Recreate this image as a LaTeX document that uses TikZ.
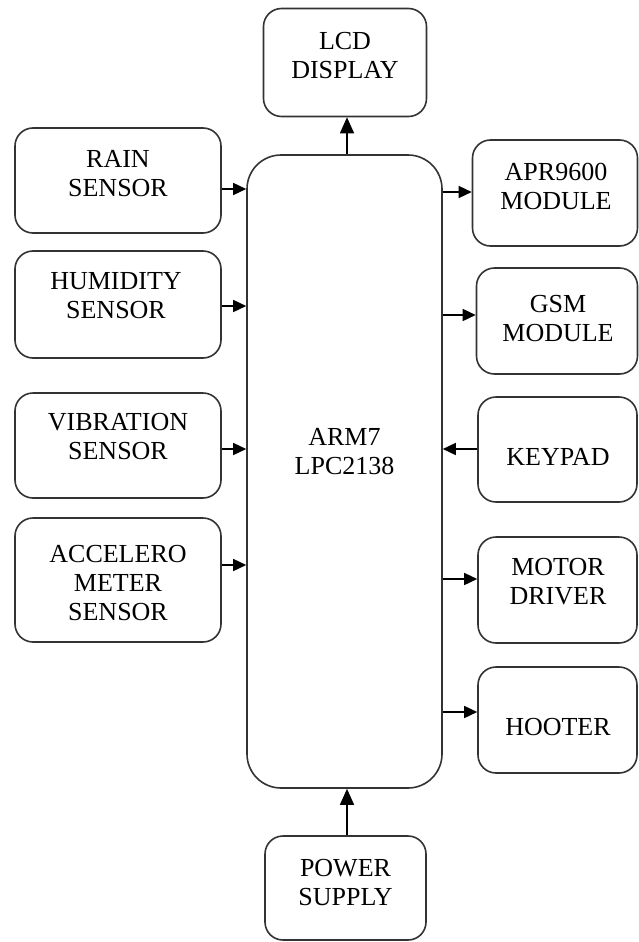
\documentclass[tikz,border=0pt]{standalone}
\usepackage{fontspec}
\setmainfont{Liberation Serif}
\usetikzlibrary{arrows.meta}
\begin{document}
\begin{tikzpicture}[x=1pt,y=1pt,
  blk/.style={draw=black!80, line width=1.6pt, rounded corners=18pt, inner sep=0pt},
  txt/.style={anchor=north, align=center, inner sep=0pt, font=\fontsize{26}{29}\selectfont},
  conn/.style={line width=1.5pt, -{Triangle[length=13pt,width=12pt]}},
  vconn/.style={line width=1.5pt, -{Triangle[length=16pt,width=14pt]}}]
\useasboundingbox (0,0) rectangle (639,-942);
% boxes
\node[blk, minimum width=195pt, minimum height=633pt, rounded corners=34pt] (arm) at (344.5,-471.5) {};
\node[blk, minimum width=163pt, minimum height=108pt] (lcd) at (345,-62.5) {};
\node[blk, minimum width=206pt, minimum height=105pt] (rain) at (118,-180.5) {};
\node[blk, minimum width=206pt, minimum height=107pt] (hum) at (118,-304.5) {};
\node[blk, minimum width=206pt, minimum height=105pt] (vib) at (118,-445.5) {};
\node[blk, minimum width=206pt, minimum height=124pt] (acc) at (118,-580) {};
\node[blk, minimum width=165pt, minimum height=106pt] (apr) at (555,-193) {};
\node[blk, minimum width=161pt, minimum height=106pt] (gsm) at (557,-321) {};
\node[blk, minimum width=159pt, minimum height=105pt] (key) at (557.5,-449.5) {};
\node[blk, minimum width=159pt, minimum height=106pt] (mot) at (557.5,-590) {};
\node[blk, minimum width=159pt, minimum height=106pt] (hoot) at (557.5,-720) {};
\node[blk, minimum width=161pt, minimum height=104pt] (pow) at (345.5,-888) {};
% texts
\node[txt] (armT) at (344.5,-428) {ARM7\\LPC2138};
\node[txt] (lcdT) at (345,-32) {LCD\\DISPLAY};
\node[txt] (rainT) at (118,-150) {RAIN\\SENSOR};
\node[txt] (humT) at (116,-272) {HUMIDITY\\SENSOR};
\node[txt] (vibT) at (118,-413) {VIBRATION\\SENSOR};
\node[txt] (accT) at (118,-545) {ACCELERO\\METER\\SENSOR};
\node[txt] (aprT) at (556,-163) {APR9600\\MODULE};
\node[txt] (gsmT) at (558,-295) {GSM\\MODULE};
\node[txt] (keyT) at (558,-448) {KEYPAD};
\node[txt] (motT) at (558,-558) {MOTOR\\DRIVER};
\node[txt] (hootT) at (558,-718) {HOOTER};
\node[txt] (powT) at (345.5,-859) {POWER\\SUPPLY};
% connectors
\draw[vconn] (arm.north -| 347,0) -- (lcd.south -| 347,0);
\draw[vconn] (pow.north -| 347,0) -- (arm.south -| 347,0);
\draw[conn] (rain.east |- 0,-189) -- (arm.west |- 0,-189);
\draw[conn] (hum.east |- 0,-306) -- (arm.west |- 0,-306);
\draw[conn] (vib.east |- 0,-449) -- (arm.west |- 0,-449);
\draw[conn] (acc.east |- 0,-565) -- (arm.west |- 0,-565);
\draw[conn] (arm.east |- 0,-192) -- (apr.west |- 0,-192);
\draw[conn] (arm.east |- 0,-315) -- (gsm.west |- 0,-315);
\draw[conn] (key.west |- 0,-449) -- (arm.east |- 0,-449);
\draw[conn] (arm.east |- 0,-579) -- (mot.west |- 0,-579);
\draw[conn] (arm.east |- 0,-712) -- (hoot.west |- 0,-712);
\end{tikzpicture}
\end{document}
